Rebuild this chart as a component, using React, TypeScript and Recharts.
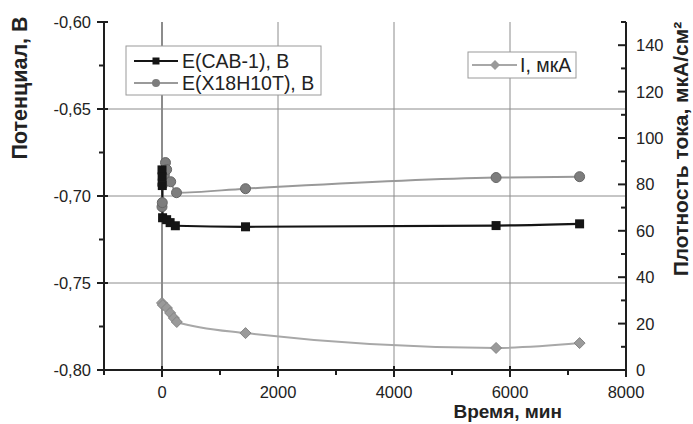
import React from 'react';
import { LineChart, Line, XAxis, YAxis, ReferenceLine } from 'recharts';

// E(CAB-1), B  (left axis)
const timeCab = [0, 2, 5, 10, 80, 140, 230, 1440, 5760, 7200];
const potentialCab = [-0.685, -0.689, -0.694, -0.7125, -0.7136, -0.7153, -0.7171, -0.7177, -0.717, -0.716];

// E(X18H10T), B  (left axis)
const timeSteel = [0, 5, 10, 20, 40, 60, 80, 150, 250, 1440, 5760, 7200];
const potentialSteel = [-0.7062, -0.7038, -0.6935, -0.6906, -0.6877, -0.6808, -0.6848, -0.6918, -0.6981, -0.6958, -0.6894, -0.6889];

// I, мкА  (right axis)
const timeCurrent = [0, 15, 85, 140, 205, 255, 1440, 5760, 7200];
const current = [28.9, 28.0, 26.7, 24.6, 22.4, 20.7, 15.9, 9.5, 11.6];

const xTicks = [-1000, 0, 1000, 2000, 3000, 4000, 5000, 6000, 7000, 8000];
const leftTicks = [-0.8, -0.775, -0.75, -0.725, -0.7, -0.675, -0.65, -0.625, -0.6];
const rightTicks = [0, 10, 20, 30, 40, 50, 60, 70, 80, 90, 100, 110, 120, 130, 140, 150];
const gridX = [0, 2000, 4000, 6000];
const gridY = [-0.65, -0.7, -0.75];

const cabData = timeCab.map((t, i) => ({ t, v: potentialCab[i] }));
const steelData = timeSteel.map((t, i) => ({ t, v: potentialSteel[i] }));
const currentData = timeCurrent.map((t, i) => ({ t, v: current[i] }));

const FONT = '"Liberation Sans", Arial, sans-serif';
const AXIS = '#1e1e1e';
const TXT = '#222';

const LeftTick = (p: any) => {
  const { x, y, payload } = p;
  const major = Math.round(payload.value * 1000) % 50 === 0;
  return (
    <g>
      <line x1={x - (major ? 7 : 5)} x2={x + (major ? 4 : 0)} y1={y} y2={y} stroke={AXIS} strokeWidth={2} />
      {major && (
        <text x={x - 13} y={y} textAnchor="end" dominantBaseline="central" fontSize={16.5} fill={TXT} fontFamily={FONT}>
          {payload.value.toFixed(2).replace('.', ',')}
        </text>
      )}
    </g>
  );
};

const RightTick = (p: any) => {
  const { x, y, payload } = p;
  const v = payload.value;
  const major = v % 20 === 0 && v <= 140;
  return (
    <g>
      <line x1={x - (major ? 8 : 5)} x2={x} y1={y} y2={y} stroke={AXIS} strokeWidth={2} />
      {major && (
        <text x={x + 10} y={y} textAnchor="start" dominantBaseline="central" fontSize={16.5} fill={TXT} fontFamily={FONT}>
          {v}
        </text>
      )}
    </g>
  );
};

const BottomTick = (p: any) => {
  const { x, y, payload } = p;
  const v = payload.value;
  const major = v % 2000 === 0;
  return (
    <g>
      <line x1={x} x2={x} y1={y - (major ? 4 : 0)} y2={y + (major ? 7 : 5)} stroke={AXIS} strokeWidth={2} />
      {major && v >= 0 && (
        <text x={x} y={y + 22} textAnchor="middle" dominantBaseline="central" fontSize={16.5} fill={TXT} fontFamily={FONT}>
          {v}
        </text>
      )}
    </g>
  );
};

const TopTick = (p: any) => {
  const { x, y, payload } = p;
  const major = payload.value % 2000 === 0;
  return <line x1={x} x2={x} y1={y} y2={y + (major ? 8 : 5)} stroke={AXIS} strokeWidth={2} />;
};

const SquareDot = (p: any) => (
  <rect key={`s${p.index}`} x={p.cx - 4.5} y={p.cy - 4.5} width={9} height={9} fill="#151515" />
);
const CircleDot = (p: any) => (
  <circle key={`c${p.index}`} cx={p.cx} cy={p.cy} r={5} fill="#7d7d7d" stroke="#666" strokeWidth={1} />
);
const DiamondDot = (p: any) => (
  <polygon
    key={`d${p.index}`}
    points={`${p.cx},${p.cy - 5.5} ${p.cx + 5.5},${p.cy} ${p.cx},${p.cy + 5.5} ${p.cx - 5.5},${p.cy}`}
    fill="#9a9a9a"
    stroke="#858585"
    strokeWidth={1}
  />
);

export default function App() {
  return (
    <div style={{ position: 'absolute', left: 0, top: 0, width: 693, height: 424, background: '#fff' }}>
      <LineChart width={693} height={424} margin={{ top: 22, right: 17, bottom: 24, left: 44 }}>
        <XAxis
          xAxisId="bottom"
          dataKey="t"
          type="number"
          domain={[-1000, 8000]}
          ticks={xTicks}
          interval={0}
          height={30}
          tickSize={0}
          tickMargin={0}
          tick={<BottomTick />}
          axisLine={{ stroke: AXIS, strokeWidth: 2 }}
          allowDataOverflow
        />
        <XAxis
          xAxisId="top"
          orientation="top"
          dataKey="t"
          type="number"
          domain={[-1000, 8000]}
          ticks={xTicks}
          interval={0}
          height={0}
          tickSize={0}
          tickMargin={0}
          tick={<TopTick />}
          axisLine={{ stroke: AXIS, strokeWidth: 2 }}
          allowDataOverflow
        />
        <YAxis
          yAxisId="left"
          type="number"
          domain={[-0.8, -0.6]}
          ticks={leftTicks}
          interval={0}
          width={60}
          tickSize={0}
          tickMargin={0}
          tick={<LeftTick />}
          axisLine={{ stroke: AXIS, strokeWidth: 2 }}
          allowDataOverflow
        />
        <YAxis
          yAxisId="right"
          orientation="right"
          type="number"
          domain={[0, 150]}
          ticks={rightTicks}
          interval={0}
          width={50}
          tickSize={0}
          tickMargin={0}
          tick={<RightTick />}
          axisLine={{ stroke: AXIS, strokeWidth: 2 }}
          allowDataOverflow
        />
        {gridX.map((gx) => (
          <ReferenceLine key={`gx${gx}`} x={gx} xAxisId="bottom" yAxisId="left" stroke="#8c8c8c" strokeWidth={gx === 0 ? 2 : 1} />
        ))}
        {gridY.map((gy) => (
          <ReferenceLine key={`gy${gy}`} y={gy} xAxisId="bottom" yAxisId="left" stroke="#8c8c8c" strokeWidth={1} />
        ))}
        <Line
          data={steelData}
          dataKey="v"
          xAxisId="bottom"
          yAxisId="left"
          type="monotone"
          stroke="#999"
          strokeWidth={2}
          dot={CircleDot}
          isAnimationActive={false}
        />
        <Line
          data={cabData}
          dataKey="v"
          xAxisId="bottom"
          yAxisId="left"
          type="monotone"
          stroke="#151515"
          strokeWidth={2.2}
          dot={SquareDot}
          isAnimationActive={false}
        />
        <Line
          data={currentData}
          dataKey="v"
          xAxisId="bottom"
          yAxisId="right"
          type="monotone"
          stroke="#a8a8a8"
          strokeWidth={2}
          dot={DiamondDot}
          isAnimationActive={false}
        />
      </LineChart>
      <svg width={693} height={424} style={{ position: 'absolute', left: 0, top: 0, pointerEvents: 'none' }} fontFamily={FONT}>
        {/* legend for potentials */}
        <rect x={126} y={46} width={195} height={49} fill="#fff" stroke="#9a9a9a" strokeWidth={1} />
        <line x1={134} x2={178} y1={61} y2={61} stroke="#151515" strokeWidth={2} />
        <rect x={152.5} y={57.5} width={7} height={7} fill="#151515" />
        <text x={182} y={61} dominantBaseline="central" fontSize={19.5} fill={TXT}>E(CAB-1), B</text>
        <line x1={134} x2={178} y1={83} y2={83} stroke="#9a9a9a" strokeWidth={2} />
        <circle cx={156} cy={83} r={4} fill="#7d7d7d" />
        <text x={182} y={83} dominantBaseline="central" fontSize={19.5} fill={TXT}>E(X18H10T), B</text>
        {/* legend for current */}
        <rect x={468} y={52} width={108} height={26} fill="#fff" stroke="#9a9a9a" strokeWidth={1} />
        <line x1={472} x2={517} y1={65} y2={65} stroke="#a8a8a8" strokeWidth={2} />
        <polygon points="495,60 500,65 495,70 490,65" fill="#9a9a9a" />
        <text x={520} y={65} dominantBaseline="central" fontSize={19.5} fill={TXT}>I, мкА</text>
        {/* axis titles */}
        <text transform="translate(20,88) rotate(-90)" textAnchor="middle" dominantBaseline="central" fontSize={21.5} fontWeight="bold" fill={TXT}>
          Потенциал, В
        </text>
        <text transform="translate(680,149) rotate(-90)" textAnchor="middle" dominantBaseline="central" fontSize={21} fontWeight="bold" fill={TXT}>
          Плотность тока, мкА/см²
        </text>
        <text x={562} y={418} textAnchor="end" fontSize={19} fontWeight="bold" fill={TXT}>
          Время, мин
        </text>
      </svg>
    </div>
  );
}
